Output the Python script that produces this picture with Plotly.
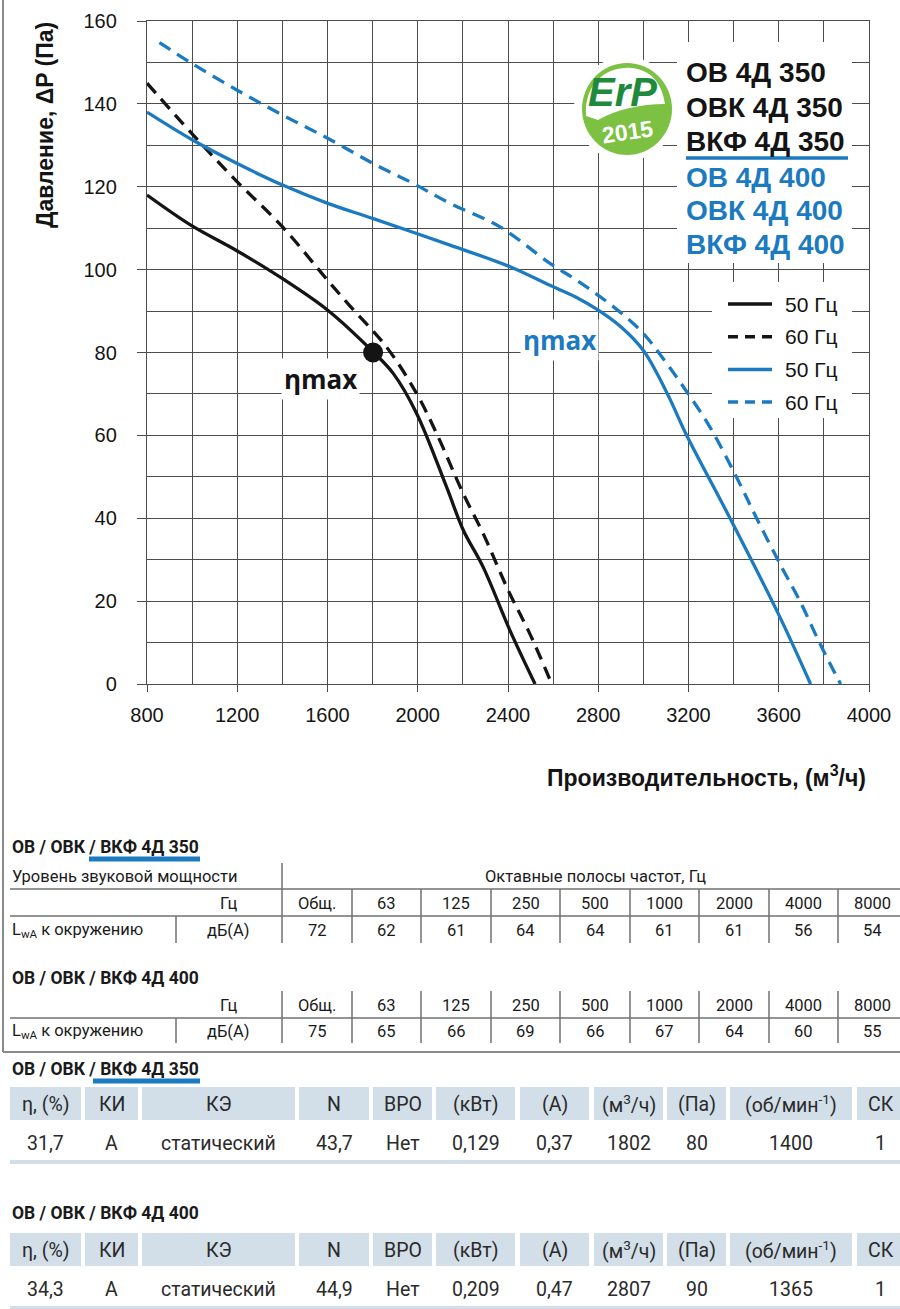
import plotly.graph_objects as go

# fan curves: flow (m3/h) / pressure (Pa)
flow_350_50 = [800, 998, 1200, 1401, 1601, 1803, 1892, 1995, 2128, 2202, 2290, 2409, 2520]
pres_350_50 = [118, 110.6, 104.5, 97.8, 90.2, 80.1, 74.9, 65.3, 47.5, 37.1, 28.2, 12.9, 0]

flow_350_60 = [800, 998, 1200, 1401, 1601, 1700, 1862, 1995, 2084, 2202, 2290, 2401, 2497, 2594]
pres_350_60 = [145, 132.9, 121.2, 110.3, 97.4, 91.2, 81.3, 70.1, 60.4, 45.9, 36.3, 22.6, 12.1, 0]

flow_400_50 = [800, 998, 1200, 1401, 1601, 1803, 2143, 2409, 2586, 2700, 2800, 2900, 3000, 3060, 3120, 3190,
               3384, 3602, 3741]
pres_400_50 = [138, 131.4, 125.6, 120.4, 116, 112.3, 105.9, 100.7, 96.2, 93.4, 90.2, 86.2, 80.5, 75, 68.5, 60.2,
               40, 16.5, 0]

flow_400_60 = [855, 998, 1200, 1401, 1601, 1803, 1980, 2143, 2365, 2586, 2700, 2800, 2900, 3000, 3088, 3180,
               3295, 3413, 3502, 3613, 3694, 3783, 3874]
pres_400_60 = [154.8, 149.8, 143.3, 137.3, 131.7, 125.6, 120.8, 116, 110.3, 101.5, 97.6, 93.8, 89.6, 84.6, 78.5,
               71.5, 62, 49.9, 40, 28.2, 20, 9.7, 0]

# max efficiency points (from the ErP tables)
eta_flow = [1802, 2807]
eta_pres = [80, 90]

models_350 = ["ОВ 4Д 350", "ОВК 4Д 350", "ВКФ 4Д 350"]
models_400 = ["ОВ 4Д 400", "ОВК 4Д 400", "ВКФ 4Д 400"]
legend_labels = ["50 Гц", "60 Гц", "50 Гц", "60 Гц"]

# sound power tables
sound_bands = ["Общ.", "63", "125", "250", "500", "1000", "2000", "4000", "8000"]
lwa_350 = [72, 62, 61, 64, 64, 61, 61, 56, 54]
lwa_400 = [75, 65, 66, 69, 66, 67, 64, 60, 55]

# ErP tables
erp_headers = ["η, (%)", "КИ", "КЭ", "N", "ВРО", "(кВт)", "(А)", "(м<sup>3</sup>/ч)", "(Па)",
               "(об/мин<sup>-1</sup>)", "СК"]
erp_350 = ["31,7", "A", "статический", "43,7", "Нет", "0,129", "0,37", "1802", "80", "1400", "1"]
erp_400 = ["34,3", "A", "статический", "44,9", "Нет", "0,209", "0,47", "2807", "90", "1365", "1"]

W, H = 900, 1309
BLACK = "#141414"
BLUE = "#1b7ac0"
GRID = "#4c4c4c"
TLINE = "#707070"
CELL = "#d2dee8"
CHART_FONT = "Liberation Sans"
TAB_FONT = "Roboto"
DASH = "13px,8px"


def fx(p):
    return p / W


def fy(p):
    return 1 - p / H


shapes = []
annotations = []


def text(x, y, s, size, color="#1a1a1a", anchor="left", family=TAB_FONT, bold=False, **kw):
    if bold:
        s = "<b>" + s + "</b>"
    annotations.append(dict(x=fx(x), y=fy(y), xref="paper", yref="paper", text=s, showarrow=False,
                            xanchor=anchor, yanchor="middle",
                            font=dict(family=family, size=size, color=color), **kw))


def hline(x0, x1, y, color=TLINE, width=1.5):
    shapes.append(dict(type="line", xref="paper", yref="paper", x0=fx(x0), x1=fx(x1), y0=fy(y), y1=fy(y),
                       line=dict(color=color, width=width), layer="above"))


def vline(x, y0, y1, color=TLINE, width=1.5):
    shapes.append(dict(type="line", xref="paper", yref="paper", x0=fx(x), x1=fx(x), y0=fy(y0), y1=fy(y1),
                       line=dict(color=color, width=width), layer="above"))


def rect(x0, y0, x1, y1, fill, layer="above"):
    shapes.append(dict(type="rect", xref="paper", yref="paper", x0=fx(x0), x1=fx(x1), y0=fy(y0), y1=fy(y1),
                       fillcolor=fill, line=dict(width=0), layer=layer))


fig = go.Figure()

curves = [
    (flow_350_50, pres_350_50, BLACK, "solid"),
    (flow_350_60, pres_350_60, BLACK, DASH),
    (flow_400_50, pres_400_50, BLUE, "solid"),
    (flow_400_60, pres_400_60, BLUE, DASH),
]
for xs, ys, color, dash in curves:
    fig.add_trace(go.Scatter(x=xs, y=ys, mode="lines", showlegend=False, hoverinfo="skip",
                             line=dict(color=color, width=3.3, dash=dash, shape="spline", smoothing=1.0)))

fig.add_trace(go.Scatter(x=eta_flow[:1], y=eta_pres[:1], mode="markers", showlegend=False, hoverinfo="skip",
                         marker=dict(size=20, color=BLACK)))

# eta max labels
for i, (color, dx, dy) in enumerate([(BLACK, -53, -27), (BLUE, -40, -29)]):
    annotations.append(dict(x=eta_flow[i], y=eta_pres[i], xref="x", yref="y", text="<b>ηmax</b>",
                            showarrow=False, xshift=dx, yshift=dy, bgcolor="white", borderpad=2,
                            font=dict(family="Open Sans", size=26, color=color)))

# axis titles
text(45, 125, "Давление, ΔP (Па)", 23, color=BLACK, anchor="center", family=CHART_FONT, bold=True,
     textangle=-90)
text(868, 776, "Производительность, (м<sup>3</sup>/ч)", 23, color=BLACK, anchor="right",
     family=CHART_FONT, bold=True)

# model names block
rect(677, 42, 852, 263, "white")
for i, name in enumerate(models_350):
    text(684, 73 + 34.5 * i, name, 28, color=BLACK, family=CHART_FONT, bold=True)
hline(686, 848, 158, color=BLUE, width=3.5)
for i, name in enumerate(models_400):
    text(684, 177 + 34 * i, name, 28, color=BLUE, family=CHART_FONT, bold=True)

# line legend
rect(712, 282, 852, 418, "white")
for i, (lab, color, dash) in enumerate(zip(legend_labels, [BLACK, BLACK, BLUE, BLUE],
                                           ["solid", "10px,7px", "solid", "10px,7px"])):
    yy = 304 + 32.7 * i
    shapes.append(dict(type="line", xref="paper", yref="paper", x0=fx(728), x1=fx(772), y0=fy(yy), y1=fy(yy),
                       line=dict(color=color, width=3.5, dash=dash), layer="above"))
    text(783, yy, lab, 21, color=BLACK, family=CHART_FONT)

# ErP logo
shapes.append(dict(type="circle", xref="paper", yref="paper", x0=fx(574), x1=fx(678), y0=fy(57), y1=fy(161),
                   fillcolor="white", line=dict(width=0), layer="above"))
shapes.append(dict(type="circle", xref="paper", yref="paper", x0=fx(582), x1=fx(672), y0=fy(63), y1=fy(155),
                   fillcolor="#7cc142", line=dict(width=0), layer="above"))
shapes.append(dict(type="path", xref="paper", yref="paper", layer="above", fillcolor="white", line=dict(width=0),
                   path=f"M {fx(586)},{fy(116)} C {fx(584)},{fy(80)} {fx(610)},{fy(66)} {fx(632)},{fy(68)} "
                        f"C {fx(650)},{fy(70)} {fx(662)},{fy(82)} {fx(665)},{fy(104)} "
                        f"C {fx(640)},{fy(104)} {fx(615)},{fy(110)} {fx(598)},{fy(120)} Z"))
text(622, 92, "<i>ErP</i>", 40, color="#1f8a3b", anchor="center", family=CHART_FONT, bold=True)
text(627, 132, "2015", 23, color="white", anchor="center", family=CHART_FONT, bold=True, textangle=-8)

# outer frame of the chart block
vline(3, 0, 1052, color="#8a8a8a", width=2)
hline(3, 900, 1052, color="#8a8a8a", width=2)

# sound power tables
col_edges = [282, 352, 421, 491, 560, 630, 699, 769, 838, 907]
col_mid = [(a + b) / 2 for a, b in zip(col_edges[:-1], col_edges[1:])]
unit_div = 176
unit_mid = (unit_div + col_edges[0]) / 2


def sound_table(title_y, row_hz, row_lwa, values, first):
    text(10, title_y, "ОВ / ОВК / ВКФ 4Д " + ("350" if first else "400"), 17.5, bold=True)
    if first:
        hline(89, 200, title_y + 12, color=BLUE, width=5)
        text(10, row_hz - 27, "Уровень звуковой мощности", 16.5)
        text(595, row_hz - 27, "Октавные полосы частот, Гц", 16.5, anchor="center")
        hline(10, 900, row_hz - 14)
        top_first = row_hz - 40
    else:
        top_first = row_hz - 14
    hline(10, 900, row_hz + 13)
    vline(col_edges[0], top_first, row_lwa + 12)
    for e in col_edges[1:-1]:
        vline(e, row_hz - 14, row_lwa + 12)
    vline(unit_div, row_hz + 13, row_lwa + 12)
    text(unit_mid, row_hz, "Гц", 16.5, anchor="center")
    text(10, row_lwa, "L<sub>wA</sub> к окружению", 16.5)
    text(unit_mid, row_lwa, "дБ(А)", 16.5, anchor="center")
    for m, band, v in zip(col_mid, sound_bands, values):
        text(m, row_hz, band, 16.5, anchor="center")
        text(m, row_lwa, str(v), 16.5, anchor="center")


sound_table(847, 903, 931, lwa_350, True)
sound_table(978, 1005, 1031, lwa_400, False)

# ErP tables
erp_cols = [(10, 81), (85, 138), (142, 295), (299, 369), (373, 432), (436, 515), (520, 589), (594, 663),
            (667, 726), (730, 852), (857, 900)]


def erp_table(title_y, cell_top, values, first):
    text(10, title_y, "ОВ / ОВК / ВКФ 4Д " + ("350" if first else "400"), 17.5, bold=True)
    if first:
        hline(93, 200, title_y + 12, color=BLUE, width=5)
    for (a, b), head, v in zip(erp_cols, erp_headers, values):
        rect(a, cell_top, b, cell_top + 33, CELL)
        mid = (a + b) / 2 + (2 if b == 900 else 0)
        text(mid, cell_top + 17, head, 19.5, color="#2a2a2a", anchor="center")
        text(mid, cell_top + 56, v, 19.5, color="#2a2a2a", anchor="center")
    hline(10, 900, cell_top + 75, color=CELL, width=4)


erp_table(1069, 1087, erp_350, True)
erp_table(1213, 1233, erp_400, False)

axis_common = dict(showline=True, mirror=True, linecolor=GRID, linewidth=1.4, showgrid=True, gridcolor=GRID,
                   gridwidth=1.1, zeroline=False, ticks="outside", tickcolor=GRID, tickwidth=1.2,
                   automargin=False, tickfont=dict(family=CHART_FONT, size=20, color=BLACK), fixedrange=True)

fig.update_layout(
    width=W, height=H,
    margin=dict(l=0, r=0, t=0, b=0, pad=0),
    paper_bgcolor="white", plot_bgcolor="white",
    shapes=shapes, annotations=annotations,
    xaxis=dict(domain=[fx(147), fx(869)], range=[800, 4000], tick0=800, dtick=400, ticklen=7,
               ticklabelstandoff=6,
               minor=dict(dtick=200, showgrid=True, gridcolor=GRID, gridwidth=1.1, ticklen=0), **axis_common),
    yaxis=dict(domain=[fy(684), fy(21)], range=[0, 160], tick0=0, dtick=20, ticklen=9,
               ticklabelstandoff=16,
               minor=dict(dtick=10, showgrid=True, gridcolor=GRID, gridwidth=1.1, ticklen=0), **axis_common),
)

fig.write_html("out.html", config={"displayModeBar": False},
               post_script="document.body.style.margin='0';document.body.style.overflow='hidden';")
